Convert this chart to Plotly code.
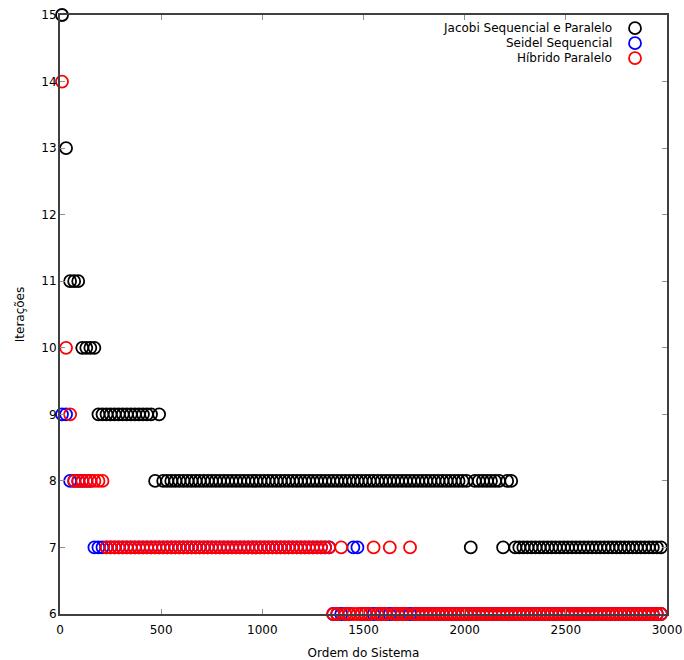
import plotly.graph_objects as go

# System orders tested (10, 30, 50, ... 2970)
ordem = list(range(10, 2980, 20))

# Iterations until convergence for each method, one value per system order
jacobi = [
    15, 13, 11, 11, 11, 10, 10, 10, 10, 9,
    9, 9, 9, 9, 9, 9, 9, 9, 9, 9,
    9, 9, 9, 8, 9, 8, 8, 8, 8, 8,
    8, 8, 8, 8, 8, 8, 8, 8, 8, 8,
    8, 8, 8, 8, 8, 8, 8, 8, 8, 8,
    8, 8, 8, 8, 8, 8, 8, 8, 8, 8,
    8, 8, 8, 8, 8, 8, 8, 8, 8, 8,
    8, 8, 8, 8, 8, 8, 8, 8, 8, 8,
    8, 8, 8, 8, 8, 8, 8, 8, 8, 8,
    8, 8, 8, 8, 8, 8, 8, 8, 8, 8,
    8, 7, 8, 8, 8, 8, 8, 8, 8, 7,
    8, 8, 7, 7, 7, 7, 7, 7, 7, 7,
    7, 7, 7, 7, 7, 7, 7, 7, 7, 7,
    7, 7, 7, 7, 7, 7, 7, 7, 7, 7,
    7, 7, 7, 7, 7, 7, 7, 7, 7,
]

seidel = [
    9, 9, 8, 8, 8, 8, 8, 8, 7, 7,
    7, 7, 7, 7, 7, 7, 7, 7, 7, 7,
    7, 7, 7, 7, 7, 7, 7, 7, 7, 7,
    7, 7, 7, 7, 7, 7, 7, 7, 7, 7,
    7, 7, 7, 7, 7, 7, 7, 7, 7, 7,
    7, 7, 7, 7, 7, 7, 7, 7, 7, 7,
    7, 7, 7, 7, 7, 7, 7, 6, 6, 6,
    6, 6, 7, 7, 6, 6, 6, 6, 6, 6,
    6, 6, 6, 6, 6, 6, 6, 6, 6, 6,
    6, 6, 6, 6, 6, 6, 6, 6, 6, 6,
    6, 6, 6, 6, 6, 6, 6, 6, 6, 6,
    6, 6, 6, 6, 6, 6, 6, 6, 6, 6,
    6, 6, 6, 6, 6, 6, 6, 6, 6, 6,
    6, 6, 6, 6, 6, 6, 6, 6, 6, 6,
    6, 6, 6, 6, 6, 6, 6, 6, 6,
]

hibrido = [
    14, 10, 9, 8, 8, 8, 8, 8, 8, 8,
    8, 7, 7, 7, 7, 7, 7, 7, 7, 7,
    7, 7, 7, 7, 7, 7, 7, 7, 7, 7,
    7, 7, 7, 7, 7, 7, 7, 7, 7, 7,
    7, 7, 7, 7, 7, 7, 7, 7, 7, 7,
    7, 7, 7, 7, 7, 7, 7, 7, 7, 7,
    7, 7, 7, 7, 7, 7, 7, 6, 6, 7,
    6, 6, 6, 6, 6, 6, 6, 7, 6, 6,
    6, 7, 6, 6, 6, 6, 7, 6, 6, 6,
    6, 6, 6, 6, 6, 6, 6, 6, 6, 6,
    6, 6, 6, 6, 6, 6, 6, 6, 6, 6,
    6, 6, 6, 6, 6, 6, 6, 6, 6, 6,
    6, 6, 6, 6, 6, 6, 6, 6, 6, 6,
    6, 6, 6, 6, 6, 6, 6, 6, 6, 6,
    6, 6, 6, 6, 6, 6, 6, 6, 6,
]

series = [
    ("Jacobi Sequencial e Paralelo", jacobi, "#000000"),
    ("Seidel Sequencial", seidel, "#0000ff"),
    ("Híbrido Paralelo", hibrido, "#ff0000"),
]

FONT = "DejaVu Sans"
AXIS_COLOR = "#404040"
TICK_COLOR = "#909090"

fig = go.Figure()
for name, vals, color in series:
    fig.add_trace(go.Scatter(
        x=ordem, y=vals, name=name, mode="markers",
        marker=dict(symbol="circle-open", size=12,
                    line=dict(color=color, width=1.8), color=color),
        cliponaxis=False, showlegend=False,
    ))

# Key in the top-right corner: label text, then the symbol to its right
key_rows = [0.978, 0.953, 0.928]
for (name, _, color), yk in zip(series, key_rows):
    fig.add_annotation(
        x=0.9127, y=yk, xref="paper", yref="paper",
        text=name, showarrow=False, xanchor="right", yanchor="middle",
        font=dict(family=FONT, size=12, color="#000000"),
    )
    fig.add_shape(
        type="circle", xref="paper", yref="paper",
        xsizemode="pixel", ysizemode="pixel",
        xanchor=0.9473, yanchor=yk,
        x0=-6, x1=6, y0=-6, y1=6,
        line=dict(color=color, width=1.8),
    )

axis_common = dict(
    showgrid=False, zeroline=False, automargin=False,
    showline=True, linecolor=AXIS_COLOR, linewidth=2, mirror="allticks",
    ticks="inside", ticklen=5, tickwidth=1, tickcolor=TICK_COLOR,
    tickfont=dict(family=FONT, size=12, color="#000000"),
)

fig.update_layout(
    width=684, height=660,
    margin=dict(l=60, r=17, t=15, b=46, autoexpand=False),
    paper_bgcolor="white", plot_bgcolor="white",
    font=dict(family=FONT, size=12, color="#000000"),
    xaxis=dict(
        range=[0, 3000], tickvals=[0, 500, 1000, 1500, 2000, 2500, 3000],
        ticklabelstandoff=4,
        title=dict(text="Ordem do Sistema", standoff=14,
                   font=dict(family=FONT, size=12)),
        **axis_common,
    ),
    yaxis=dict(
        range=[6, 15], tickvals=list(range(6, 16)),
        ticklabelstandoff=-1,
        title=dict(text="Iterações", standoff=14,
                   font=dict(family=FONT, size=12)),
        **axis_common,
    ),
)

fig.write_html("out.html")
